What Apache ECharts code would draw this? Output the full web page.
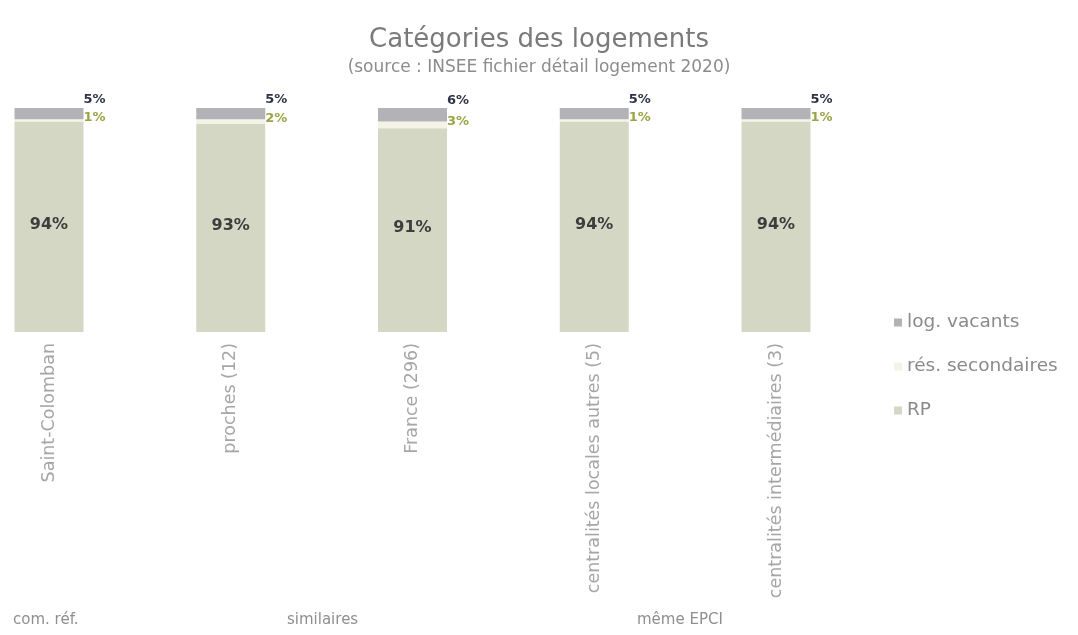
<!DOCTYPE html>
<html>
<head>
<meta charset="utf-8">
<script src="https://cdn.jsdelivr.net/npm/echarts@6/dist/echarts.min.js"></script>
<style>
  html, body { margin: 0; padding: 0; background: #fff; }
  #chart { width: 1078px; height: 635px; }
</style>
</head>
<body>
<div id="chart"></div>
<script>
// données (en %)
var categories = ['Saint-Colomban', 'proches (12)', 'France (296)', 'centralités locales autres (5)', 'centralités intermédiaires (3)']
var rpValues = [94, 93, 91, 94, 94]
var secValues = [1, 2, 3, 1, 1]
var vacValues = [5, 5, 6, 5, 5]
var groupLabels = ['com. réf.', 'similaires', 'même EPCI']

var FONT = 'DejaVu Sans'
var chart = echarts.init(document.getElementById('chart'))

var pct = function (p) { return p.value + '%' }

chart.setOption({
  animation: false,
  textStyle: { fontFamily: FONT },
  title: {
    text: 'Catégories des logements',
    subtext: '(source : INSEE fichier détail logement 2020)',
    left: 'center',
    top: 22,
    itemGap: 6,
    textStyle: { color: '#7a7a7a', fontSize: 26, fontWeight: 'normal', fontFamily: FONT },
    subtextStyle: { color: '#8c8c8c', fontSize: 17, fontFamily: FONT }
  },
  legend: {
    orient: 'vertical',
    left: 889,
    top: 308,
    itemGap: 25,
    itemWidth: 8,
    itemHeight: 8,
    icon: 'rect',
    textStyle: { color: '#8a8a8a', fontSize: 18.5, fontFamily: FONT },
    data: ['log. vacants', 'rés. secondaires', 'RP']
  },
  grid: { left: 49, right: 302, top: 108, bottom: 303, containLabel: false },
  xAxis: {
    type: 'category',
    data: categories,
    boundaryGap: false,
    axisLine: { show: false },
    axisTick: { show: false },
    axisLabel: {
      rotate: 90,
      margin: 11,
      color: '#a6a6a6',
      fontSize: 17.5,
      interval: 0
    }
  },
  yAxis: {
    type: 'value',
    min: 0,
    max: 100,
    show: false,
    splitLine: { show: false }
  },
  series: [
    {
      name: 'RP',
      type: 'bar',
      stack: 'tot',
      barWidth: 69,
      data: rpValues,
      itemStyle: { color: '#d5d7c5' },
      label: { show: true, position: 'inside', offset: [0, -2], formatter: pct, color: '#3d3d3d', fontWeight: 'bold', fontSize: 16 }
    },
    {
      name: 'rés. secondaires',
      type: 'bar',
      stack: 'tot',
      data: secValues,
      itemStyle: { color: '#f3f4e6' },
      label: { show: true, position: 'right', distance: 0, offset: [0, -3], formatter: pct, color: '#9ba346', fontWeight: 'bold', fontSize: 13 }
    },
    {
      name: 'log. vacants',
      type: 'bar',
      stack: 'tot',
      data: vacValues,
      itemStyle: { color: '#b3b3b7' },
      label: { show: true, position: 'right', distance: 0, offset: [0, -14], formatter: pct, color: '#2f3347', fontWeight: 'bold', fontSize: 13 }
    }
  ],
  graphic: [
    { type: 'text', left: 13, top: 613, style: { text: groupLabels[0], fill: '#8f8f8f', font: '15px "DejaVu Sans"' } },
    { type: 'text', left: 287, top: 613, style: { text: groupLabels[1], fill: '#8f8f8f', font: '15px "DejaVu Sans"' } },
    { type: 'text', left: 637, top: 613, style: { text: groupLabels[2], fill: '#8f8f8f', font: '15px "DejaVu Sans"' } }
  ]
})
</script>
</body>
</html>
